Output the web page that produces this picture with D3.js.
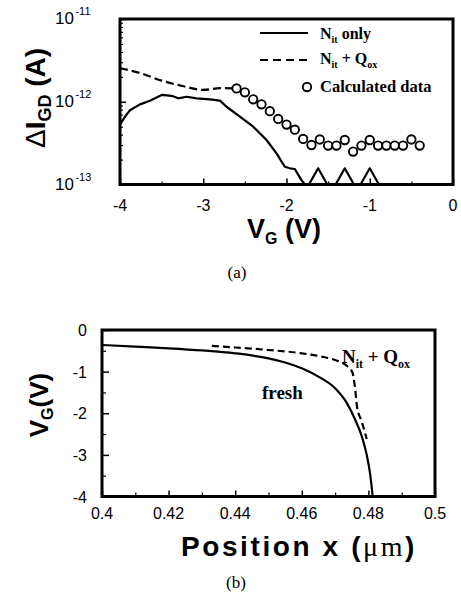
<!DOCTYPE html>
<html><head><meta charset="utf-8">
<script src="https://cdn.jsdelivr.net/npm/d3@7"></script>
<style>body{margin:0;background:#fff} svg{display:block}</style>
</head><body>
<svg id="c" width="461" height="597"></svg>
<script>
// ---------- Panel (a) data ----------
const aXTicks = [-4, -3, -2, -1, 0];
const aXTickLabels = ["-4", "-3", "-2", "-1", "0"];
const aXMinor = [-3.5, -2.5, -1.5, -0.5];
const aYTicks = [1e-13, 1e-12, 1e-11];
const aYTickExp = ["-13", "-12", "-11"];

const nitOnlyVG = [-4.0,-3.94,-3.88,-3.76,-3.64,-3.5,-3.38,-3.30,-3.2,-3.08,-2.92,-2.8,-2.72,-2.56,-2.40,-2.24,-2.12,-2.02,-1.96,-1.90,-1.82,-1.78,-1.73,-1.62,-1.51,-1.41,-1.30,-1.19,-1.11,-1.00,-0.89];
const nitOnlyI  = [5.3e-13,6.6e-13,7.9e-13,9.3e-13,1.03e-12,1.21e-12,1.18e-12,1.10e-12,1.15e-12,1.10e-12,1.07e-12,1.03e-12,8.7e-13,6.6e-13,5.0e-13,3.45e-13,2.38e-13,1.64e-13,1.57e-13,1.54e-13,1.13e-13,1e-13,1e-13,1.57e-13,1e-13,1e-13,1.57e-13,1e-13,1e-13,1.57e-13,1e-13];

const nitQoxVG = [-4.0,-3.75,-3.5,-3.25,-3.0,-2.8,-2.6];
const nitQoxI  = [2.54e-12,2.21e-12,1.80e-12,1.55e-12,1.39e-12,1.46e-12,1.45e-12];

const calcVG = [-2.6,-2.5,-2.4,-2.3,-2.2,-2.1,-2.0,-1.9,-1.8,-1.7,-1.6,-1.5,-1.4,-1.3,-1.2,-1.1,-1.0,-0.9,-0.8,-0.7,-0.6,-0.5,-0.4];
const calcI  = [1.45e-12,1.30e-12,1.07e-12,9.3e-13,7.7e-13,6.2e-13,5.3e-13,4.6e-13,3.55e-13,3.0e-13,3.5e-13,2.95e-13,2.95e-13,3.45e-13,2.5e-13,2.95e-13,3.45e-13,2.95e-13,2.95e-13,2.95e-13,2.95e-13,3.5e-13,2.95e-13];

// ---------- Panel (b) data ----------
const bXTicks = [0.4, 0.42, 0.44, 0.46, 0.48, 0.5];
const bXTickLabels = ["0.4", "0.42", "0.44", "0.46", "0.48", "0.5"];
const bXMinor = [0.41, 0.43, 0.45, 0.47, 0.49];
const bYTicks = [0, -1, -2, -3, -4];
const bYTickLabels = ["0", "-1", "-2", "-3", "-4"];
const bYMinor = [-0.5, -1.5, -2.5, -3.5];

const freshX = [0.400,0.410,0.420,0.430,0.440,0.450,0.455,0.460,0.465,0.470,0.4735,0.476,0.478,0.4795,0.4805,0.4813];
const freshVG = [-0.36,-0.40,-0.44,-0.49,-0.56,-0.68,-0.78,-0.92,-1.12,-1.40,-1.75,-2.15,-2.55,-3.0,-3.45,-4.0];

const stressX = [0.433,0.440,0.450,0.460,0.466,0.470,0.4735,0.4752,0.4760,0.4766,0.4780,0.4795];
const stressVG = [-0.38,-0.42,-0.48,-0.56,-0.64,-0.72,-0.86,-1.02,-1.40,-1.85,-2.20,-2.62];

// ---------- drawing ----------
const SANS = "'Liberation Sans', Arial, Helvetica, sans-serif";
const SERIF = "'Liberation Serif', 'Times New Roman', serif";
const svg = d3.select("#c");

// ===== Panel (a) =====
const ax = d3.scaleLinear().domain([-4, 0]).range([120, 453]);
const ay = d3.scaleLog().domain([1e-13, 1e-11]).range([184.5, 19]).clamp(true);
const ga = svg.append("g");

ga.append("g").attr("transform", `translate(0,${ay.range()[0]})`)
  .call(d3.axisBottom(ax).tickValues(aXTicks).tickSize(-6).tickFormat(""))
  .call(g => g.select(".domain").remove())
  .selectAll("line").attr("stroke-width", 1.5);
ga.append("g").attr("transform", `translate(0,${ay.range()[0]})`)
  .call(d3.axisBottom(ax).tickValues(aXMinor).tickSize(-3).tickFormat(""))
  .call(g => g.select(".domain").remove())
  .selectAll("line").attr("stroke-width", 1.2);
const aMinorY = [];
[1e-13, 1e-12].forEach(d => { for (let k = 2; k <= 9; k++) aMinorY.push(d * k); });
ga.append("g").attr("transform", `translate(${ax.range()[0]},0)`)
  .call(d3.axisLeft(ay).tickValues(aYTicks).tickSize(-6).tickFormat(""))
  .call(g => g.select(".domain").remove())
  .selectAll("line").attr("stroke-width", 1.5);
ga.append("g").attr("transform", `translate(${ax.range()[0]},0)`)
  .call(d3.axisLeft(ay).tickValues(aMinorY).tickSize(-3).tickFormat(""))
  .call(g => g.select(".domain").remove())
  .selectAll("line").attr("stroke-width", 1.2);

ga.selectAll(".axl").data(aXTicks).join("text")
  .attr("x", d => ax(d)).attr("y", ay.range()[0] + 26)
  .attr("text-anchor", "middle").attr("font-family", SANS).attr("font-size", 16)
  .text((d, i) => aXTickLabels[i]);
const ylab = ga.selectAll(".ayl").data(aYTicks).join("text")
  .attr("x", 55).attr("y", d => ay(d) + 5)
  .attr("font-family", SANS).attr("font-size", 17);
ylab.append("tspan").text("10");
ylab.append("tspan").attr("font-size", 11).attr("dy", -9).attr("dx", 1.5).text((d, i) => aYTickExp[i]);

const aLine = d3.line().x(d => ax(d[0])).y(d => ay(d[1]));
ga.append("path").datum(nitOnlyVG.map((v, i) => [v, nitOnlyI[i]]))
  .attr("d", aLine).attr("fill", "none").attr("stroke", "#000").attr("stroke-width", 2.2).attr("stroke-linejoin", "round");
ga.append("path").datum(nitQoxVG.map((v, i) => [v, nitQoxI[i]]))
  .attr("d", aLine.curve(d3.curveMonotoneX)).attr("fill", "none").attr("stroke", "#000").attr("stroke-width", 2.2)
  .attr("stroke-dasharray", "8,4");
ga.selectAll(".pt").data(calcVG.map((v, i) => [v, calcI[i]])).join("circle")
  .attr("cx", d => ax(d[0])).attr("cy", d => ay(d[1])).attr("r", 4.2)
  .attr("fill", "#fff").attr("stroke", "#000").attr("stroke-width", 1.9);

ga.append("rect").attr("x", 120).attr("y", 19).attr("width", 333).attr("height", 165.5)
  .attr("fill", "none").attr("stroke", "#000").attr("stroke-width", 3);

// legend
ga.append("line").attr("x1", 260).attr("x2", 308).attr("y1", 33).attr("y2", 33).attr("stroke", "#000").attr("stroke-width", 2.2);
ga.append("line").attr("x1", 260).attr("x2", 308).attr("y1", 60).attr("y2", 60).attr("stroke", "#000").attr("stroke-width", 2.2).attr("stroke-dasharray", "8,5");
ga.append("circle").attr("cx", 307).attr("cy", 87).attr("r", 4.2).attr("fill", "#fff").attr("stroke", "#000").attr("stroke-width", 1.9);
function nitText(g, x, y, fs) {
  const t = g.append("text").attr("x", x).attr("y", y).attr("font-family", SERIF).attr("font-weight", "bold").attr("font-size", fs);
  t.append("tspan").text("N");
  t.append("tspan").attr("font-size", fs * 0.62).attr("dy", fs * 0.25).text("it");
  return t;
}
let t1 = nitText(ga, 320, 39, 16);
t1.append("tspan").attr("dy", -4).text(" only");
let t2 = nitText(ga, 320, 64, 16);
t2.append("tspan").attr("dy", -4).text(" + Q");
t2.append("tspan").attr("font-size", 10).attr("dy", 4).text("ox");
ga.append("text").attr("x", 320).attr("y", 92).attr("font-family", SERIF).attr("font-weight", "bold").attr("font-size", 16.5).text("Calculated data");

const atx = ga.append("text").attr("x", 284).attr("y", 238).attr("text-anchor", "middle")
  .attr("font-family", SANS).attr("font-weight", "bold").attr("font-size", 27);
atx.append("tspan").text("V");
atx.append("tspan").attr("font-size", 16).attr("dy", 6).text("G");
atx.append("tspan").attr("dy", -6).text(" (V)");

const aty = ga.append("text").attr("transform", "translate(45,98) rotate(-90)").attr("text-anchor", "middle")
  .attr("font-family", SANS).attr("font-weight", "bold").attr("font-size", 28);
aty.append("tspan").attr("font-weight", "normal").text("\u0394");
aty.append("tspan").text("I");
aty.append("tspan").attr("font-size", 18).attr("dy", 6).text("GD");
aty.append("tspan").attr("dy", -6).text(" (A)");

svg.append("text").attr("x", 237).attr("y", 278).attr("text-anchor", "middle")
  .attr("font-family", SERIF).attr("font-size", 17).text("(a)");

// ===== Panel (b) =====
const bx = d3.scaleLinear().domain([0.4, 0.5]).range([102, 435]);
const by = d3.scaleLinear().domain([-4, 0]).range([496.5, 330]);
const gb = svg.append("g");

gb.append("g").attr("transform", `translate(0,${by.range()[0]})`)
  .call(d3.axisBottom(bx).tickValues(bXTicks).tickSize(-6).tickFormat(""))
  .call(g => g.select(".domain").remove())
  .selectAll("line").attr("stroke-width", 1.5);
gb.append("g").attr("transform", `translate(0,${by.range()[0]})`)
  .call(d3.axisBottom(bx).tickValues(bXMinor).tickSize(-4).tickFormat(""))
  .call(g => g.select(".domain").remove())
  .selectAll("line").attr("stroke-width", 1.2);
gb.append("g").attr("transform", `translate(${bx.range()[0]},0)`)
  .call(d3.axisLeft(by).tickValues(bYTicks).tickSize(-7).tickFormat(""))
  .call(g => g.select(".domain").remove())
  .selectAll("line").attr("stroke-width", 1.5);
gb.append("g").attr("transform", `translate(${bx.range()[0]},0)`)
  .call(d3.axisLeft(by).tickValues(bYMinor).tickSize(-4).tickFormat(""))
  .call(g => g.select(".domain").remove())
  .selectAll("line").attr("stroke-width", 1.2);

gb.selectAll(".bxl").data(bXTicks).join("text")
  .attr("x", d => bx(d)).attr("y", by.range()[0] + 22)
  .attr("text-anchor", "middle").attr("font-family", SANS).attr("font-size", 16)
  .text((d, i) => bXTickLabels[i]);
gb.selectAll(".byl").data(bYTicks).join("text")
  .attr("x", 87).attr("y", d => by(d) + 6)
  .attr("text-anchor", "end").attr("font-family", SANS).attr("font-size", 16)
  .text((d, i) => bYTickLabels[i]);

const bLine = d3.line().x(d => bx(d[0])).y(d => by(d[1])).curve(d3.curveMonotoneX);
gb.append("path").datum(freshX.map((v, i) => [v, freshVG[i]]))
  .attr("d", bLine).attr("fill", "none").attr("stroke", "#000").attr("stroke-width", 2.2);
gb.append("path").datum(stressX.map((v, i) => [v, stressVG[i]]))
  .attr("d", bLine).attr("fill", "none").attr("stroke", "#000").attr("stroke-width", 2.2)
  .attr("stroke-dasharray", "7,4");

gb.append("rect").attr("x", 102).attr("y", 330).attr("width", 333).attr("height", 166.5)
  .attr("fill", "none").attr("stroke", "#000").attr("stroke-width", 3);

let t3 = nitText(gb, 342, 363, 19);
t3.append("tspan").attr("dy", -4.75).text(" + Q");
t3.append("tspan").attr("font-size", 12).attr("dy", 4.75).text("ox");
gb.append("text").attr("x", 262).attr("y", 399).attr("font-family", SERIF).attr("font-weight", "bold").attr("font-size", 19).text("fresh");

const btx = gb.append("text").attr("x", 299).attr("y", 556).attr("text-anchor", "middle")
  .attr("font-family", SANS).attr("font-weight", "bold").attr("font-size", 28).attr("letter-spacing", 2.6);
btx.append("tspan").text("Position x (");
btx.append("tspan").attr("font-family", SERIF).attr("font-weight", "normal").text("\u03bcm");
btx.append("tspan").text(")");

const bty = gb.append("text").attr("transform", "translate(48,405) rotate(-90)").attr("text-anchor", "middle")
  .attr("font-family", SANS).attr("font-weight", "bold").attr("font-size", 26);
bty.append("tspan").text("V");
bty.append("tspan").attr("font-size", 16).attr("dy", 5).text("G");
bty.append("tspan").attr("dy", -5).text("(V)");

svg.append("text").attr("x", 236).attr("y", 588).attr("text-anchor", "middle")
  .attr("font-family", SERIF).attr("font-size", 17).text("(b)");
</script>
</body></html>
